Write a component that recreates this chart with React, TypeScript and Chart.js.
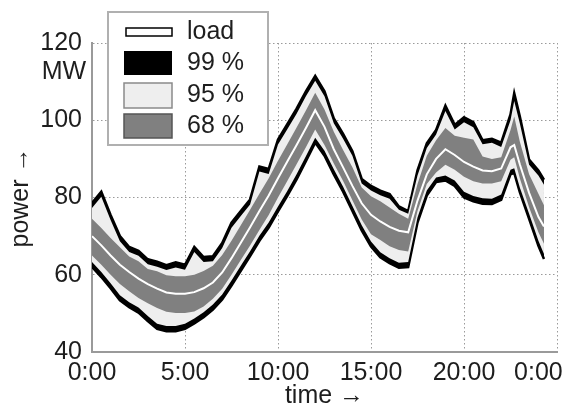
import React, { useEffect, useRef } from 'react';
import { Chart, registerables } from 'chart.js';

Chart.register(...registerables);

// time of day in hours
const times = [0, 0.5, 1, 1.5, 2, 2.5, 3, 3.5, 4, 4.5, 5, 5.5, 6, 6.5, 7, 7.5, 8, 8.5, 9, 9.5, 10, 10.5, 11, 11.5, 12, 12.5, 13, 13.5, 14, 14.5, 15, 15.5, 16, 16.5, 17, 17.5, 18, 18.5, 19, 19.5, 20, 20.5, 21, 21.5, 22, 22.5, 22.7, 23, 23.5, 24, 24.3];

// 99 % band bounds (MW)
const upper99 = [78.6, 81.5, 75.5, 70.0, 67.2, 66.2, 64.0, 63.4, 62.5, 63.2, 62.6, 67.2, 64.6, 64.8, 68.2, 73.5, 76.5, 79.5, 88.0, 87.4, 95.0, 99.0, 103.0, 107.5, 111.5, 107.5, 100.5, 96.5, 92.0, 84.8, 83.0, 81.8, 80.9, 77.7, 76.5, 87.0, 94.0, 97.5, 103.8, 98.8, 100.8, 99.5, 94.8, 95.2, 94.2, 101.5, 107.0, 101.0, 89.8, 87.0, 84.6];
const lower99 = [62.0, 59.4, 56.5, 53.4, 51.6, 50.2, 48.0, 46.0, 45.4, 45.4, 46.0, 47.4, 49.0, 51.0, 53.6, 57.2, 61.0, 64.8, 68.8, 72.2, 76.4, 80.4, 84.7, 89.4, 94.2, 90.8, 86.0, 81.5, 76.5, 71.5, 67.3, 64.5, 63.0, 61.8, 62.0, 73.5, 80.5, 84.0, 84.4, 83.0, 80.0, 79.0, 78.4, 78.3, 79.4, 86.0, 86.4, 81.4, 74.5, 67.5, 64.1];

// 95 % band bounds (MW)
const upper95 = [77.3, 80.2, 74.2, 68.7, 65.9, 64.9, 62.7, 62.1, 61.2, 61.9, 61.3, 65.9, 63.3, 63.5, 66.9, 72.2, 75.2, 78.2, 86.7, 86.1, 93.7, 97.7, 101.7, 106.2, 110.2, 106.2, 99.2, 95.2, 90.8, 83.6, 81.8, 80.6, 79.7, 76.8, 75.8, 85.7, 92.8, 96.3, 102.4, 97.6, 99.5, 98.2, 93.8, 94.2, 93.1, 100.0, 105.0, 99.2, 88.5, 85.7, 83.3];
const lower95 = [63.3, 60.7, 57.8, 54.7, 52.9, 51.5, 49.3, 47.3, 46.7, 46.7, 47.3, 48.7, 50.3, 52.3, 54.9, 58.5, 62.3, 66.1, 70.1, 73.5, 77.7, 81.7, 86.0, 90.7, 95.5, 92.1, 87.3, 82.8, 77.8, 72.8, 68.6, 65.8, 64.3, 63.1, 63.3, 74.8, 81.8, 85.2, 85.7, 84.4, 81.5, 80.4, 79.8, 79.7, 80.8, 87.2, 87.6, 82.6, 75.8, 68.8, 65.4];

// 68 % band bounds (MW)
const upper68 = [74.5, 72.1, 69.5, 67.1, 64.7, 63.5, 61.5, 60.9, 59.9, 59.6, 59.6, 60.0, 61.0, 62.3, 65.1, 68.8, 72.8, 76.8, 81.0, 85.0, 89.5, 93.8, 98.1, 102.5, 107.1, 102.8, 97.0, 92.3, 87.8, 82.6, 80.3, 79.0, 77.4, 75.8, 74.5, 83.5, 90.8, 94.8, 98.0, 96.0, 95.5, 95.0, 90.6, 90.0, 90.4, 97.5, 101.0, 94.5, 86.0, 81.0, 78.0];
const lower68 = [65.0, 62.6, 60.0, 57.6, 55.7, 54.0, 52.6, 51.4, 50.4, 50.1, 50.1, 50.5, 51.8, 53.8, 56.4, 60.0, 63.8, 67.6, 71.6, 75.5, 80.0, 84.3, 88.6, 93.0, 97.6, 93.6, 88.8, 84.3, 79.3, 74.3, 70.5, 69.0, 67.4, 66.4, 66.0, 76.5, 83.5, 86.5, 88.5, 87.2, 85.4, 84.2, 83.6, 83.6, 84.2, 89.8, 90.4, 85.0, 77.5, 71.0, 68.0];

// load (MW)
const load = [70.0, 67.6, 65.0, 62.6, 60.7, 59.0, 57.6, 56.4, 55.4, 55.1, 55.1, 55.5, 56.5, 58.0, 60.6, 64.3, 68.3, 72.3, 76.5, 80.5, 85.0, 89.3, 93.6, 98.0, 102.6, 98.3, 92.5, 87.8, 83.0, 78.5, 75.5, 73.8, 72.4, 71.4, 71.0, 79.2, 86.0, 90.0, 92.5, 91.0, 89.2, 88.0, 87.0, 86.8, 87.5, 93.0, 93.6, 88.6, 81.2, 75.0, 72.5];

const xTickValues = [0, 5, 10, 15, 20, 24, 25];
const xTickLabels = ['0:00', '5:00', '10:00', '15:00', '20:00', '0:00', ''];
const yTickValues = [40, 60, 80, 100, 120];
const legendLabels = ['load', '99 %', '95 %', '68 %'];
const unitLabel = 'MW';
const xTitle = 'time \u2192';
const yTitle = 'power \u2192';

const FONT = "'Liberation Sans', Arial, Helvetica, sans-serif";
const TEXT = '#1e1e1e';
const C99 = '#000000';
const C95 = '#eeeeee';
const C68 = '#808080';

export default function App() {
  const ref = useRef<HTMLCanvasElement>(null);

  useEffect(() => {
    const canvas = ref.current;
    if (!canvas) return;
    const pts = (arr: number[]) => times.map((t, i) => ({ x: t, y: arr[i] }));

    const overlay = {
      id: 'overlayLegend',
      afterDraw(chart: any) {
        const ctx = chart.ctx as CanvasRenderingContext2D;
        ctx.save();
        // unit label under top tick
        ctx.font = `25px ${FONT}`;
        ctx.fillStyle = TEXT;
        ctx.textAlign = 'center';
        ctx.textBaseline = 'middle';
        ctx.fillText(unitLabel, 64, 72);
        // legend box
        ctx.fillStyle = '#ffffff';
        ctx.fillRect(108, 12, 160, 133);
        ctx.strokeStyle = '#b0b0b0';
        ctx.lineWidth = 2;
        ctx.strokeRect(108, 12, 160, 133);
        // swatches
        ctx.lineWidth = 1.5;
        ctx.fillStyle = '#ffffff';
        ctx.strokeStyle = '#000000';
        ctx.fillRect(126, 28, 46, 8);
        ctx.strokeRect(126, 28, 46, 8);
        ctx.fillStyle = C99;
        ctx.fillRect(124, 51, 48, 24);
        ctx.fillStyle = C95;
        ctx.strokeStyle = '#8a8a8a';
        ctx.fillRect(124, 83, 48, 25);
        ctx.strokeRect(124, 83, 48, 25);
        ctx.fillStyle = C68;
        ctx.strokeStyle = '#555555';
        ctx.fillRect(124, 114, 48, 24);
        ctx.strokeRect(124, 114, 48, 24);
        // labels
        ctx.fillStyle = TEXT;
        ctx.textAlign = 'left';
        ctx.textBaseline = 'middle';
        const ys = [32, 63, 95, 126];
        legendLabels.forEach((l, i) => ctx.fillText(l, 187, ys[i]));
        ctx.restore();
      },
    };

    const chart = new Chart(canvas, {
      type: 'line',
      data: {
        datasets: [
          { label: 'load', data: pts(load), borderColor: '#ffffff', borderWidth: 2, fill: false, order: 0 },
          { label: '68 % upper', data: pts(upper68), borderColor: 'rgba(0,0,0,0)', borderWidth: 1, backgroundColor: C68, fill: '+1', order: 1 },
          { label: '68 % lower', data: pts(lower68), borderColor: 'rgba(0,0,0,0)', borderWidth: 1, fill: false, order: 1 },
          { label: '95 % upper', data: pts(upper95), borderColor: 'rgba(0,0,0,0)', borderWidth: 1, backgroundColor: C95, fill: '+1', order: 2 },
          { label: '95 % lower', data: pts(lower95), borderColor: 'rgba(0,0,0,0)', borderWidth: 1, fill: false, order: 2 },
          { label: '99 % upper', data: pts(upper99), borderColor: '#000000', borderWidth: 2.5, backgroundColor: C99, fill: '+1', order: 3 },
          { label: '99 % lower', data: pts(lower99), borderColor: '#000000', borderWidth: 2.5, fill: false, order: 3 },
        ] as any,
      },
      options: {
        animation: false,
        responsive: false,
        devicePixelRatio: 1,
        layout: { padding: { top: 43, right: 7, left: 0, bottom: 0 } },
        elements: { point: { radius: 0 }, line: { tension: 0 } },
        plugins: {
          legend: { display: false },
          tooltip: { enabled: false },
          filler: { propagate: false },
        },
        scales: {
          x: {
            type: 'linear',
            min: 0,
            max: 25,
            afterBuildTicks: (s: any) => {
              s.ticks = xTickValues.map((v) => ({ value: v }));
            },
            afterFit: (s: any) => {
              s.height = 57;
              s.paddingLeft = 0;
              s.paddingRight = 0;
            },
            ticks: {
              autoSkip: false,
              maxRotation: 0,
              minRotation: 0,
              padding: 6,
              color: TEXT,
              font: { size: 25, family: FONT },
              callback: (v: any) => {
                const i = xTickValues.indexOf(Number(v));
                return i >= 0 ? xTickLabels[i] : '';
              },
            },
            grid: {
              color: (c: any) => (c.tick && c.tick.value === 24 ? 'rgba(0,0,0,0)' : '#9a9a9a'),
              lineWidth: 1,
              drawTicks: false,
            },
            border: { display: true, color: '#9a9a9a', width: 2, dash: [1.5, 2.5] },
            title: {
              display: true,
              text: xTitle,
              color: TEXT,
              font: { size: 25, family: FONT, lineHeight: 1 },
              padding: { top: 0, bottom: 0 },
            },
          },
          y: {
            type: 'linear',
            min: 40,
            max: 120,
            afterBuildTicks: (s: any) => {
              s.ticks = yTickValues.map((v) => ({ value: v }));
            },
            afterFit: (s: any) => {
              s.width = 92;
            },
            ticks: {
              padding: 10,
              color: TEXT,
              font: { size: 25, family: FONT },
            },
            grid: { color: '#9a9a9a', lineWidth: 1, drawTicks: false },
            border: { display: true, color: '#9a9a9a', width: 2, dash: [1.5, 2.5] },
            title: {
              display: true,
              text: yTitle,
              color: TEXT,
              font: { size: 25, family: FONT, lineHeight: 1 },
              padding: { top: 9, bottom: 0 },
            },
          },
        },
      } as any,
      plugins: [overlay],
    });

    return () => chart.destroy();
  }, []);

  return (
    <div style={{ position: 'absolute', left: 0, top: 0, width: 564, height: 409, background: '#fff' }}>
      <canvas ref={ref} width={564} height={409} style={{ display: 'block' }} />
    </div>
  );
}
